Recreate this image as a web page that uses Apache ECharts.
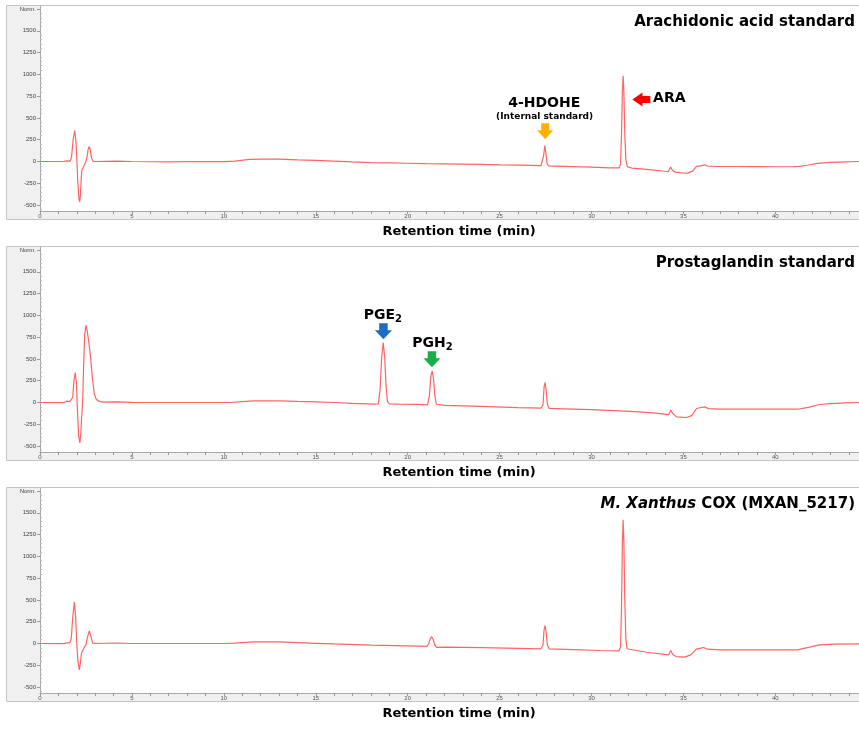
<!DOCTYPE html>
<html>
<head>
<meta charset="utf-8">
<script src="https://cdn.jsdelivr.net/npm/echarts@6/dist/echarts.min.js"></script>
<style>
html,body{margin:0;padding:0;background:#fff}
#chart{width:859px;height:729px}
</style>
</head>
<body>
<div id="chart"></div>
<script>
// tick labels
const xTicks = [0, 5, 10, 15, 20, 25, 30, 35, 40]
const yTicks = [-500, -250, 0, 250, 500, 750, 1000, 1250, 1500, 1750]

// retention time (min), signal (Norm.)
const araStd = [
  [0,0],[1.3,0],[1.45,8],[1.55,12],[1.65,5],[1.72,60],[1.8,250],[1.89,356],[1.95,250],[2.0,40],
  [2.06,-250],[2.12,-430],[2.16,-463],[2.2,-380],[2.24,-200],[2.28,-95],[2.35,-70],[2.45,-25],
  [2.55,40],[2.62,140],[2.68,172],[2.74,130],[2.8,40],[2.88,5],[3.0,0],[4.2,5],[5,0],[7,-3],
  [8.5,0],[10,-2],[10.6,5],[11.4,25],[12,28],[13,27],[14,18],[15,12],[16,5],[17,-5],[18,-12],
  [19,-15],[20,-20],[21,-25],[22,-28],[23,-30],[24,-32],[25,-38],[26,-42],[27.25,-48],[27.33,-40],
  [27.39,60],[27.46,184],[27.52,90],[27.58,-20],[27.66,-50],[28,-52],[29,-58],[30,-64],[31,-72],
  [31.5,-74],[31.58,-30],[31.63,300],[31.68,800],[31.72,984],[31.76,800],[31.81,320],[31.87,20],
  [31.95,-60],[32.2,-75],[33,-90],[34,-112],[34.18,-115],[34.3,-64],[34.4,-100],[34.55,-122],
  [34.9,-130],[35.25,-133],[35.5,-110],[35.71,-55],[35.9,-50],[36.16,-38],[36.3,-52],[37,-57],
  [38,-57],[39,-58],[40,-60],[41,-58],[41.3,-56],[41.8,-40],[42.3,-22],[42.96,-11],[43.5,-6],[44.55,0]
]
const pgStd = [
  [0,0],[1.3,-2],[1.45,15],[1.54,18],[1.62,10],[1.72,5],[1.78,60],[1.85,260],[1.92,344],[1.98,220],
  [2.04,-100],[2.1,-380],[2.17,-464],[2.22,-350],[2.28,-120],[2.32,0],[2.37,400],[2.43,780],
  [2.5,887],[2.57,820],[2.65,700],[2.75,524],[2.85,280],[2.95,103],[3.05,40],[3.17,18],[3.4,5],
  [4.2,8],[5,2],[7,0],[9,0],[10.4,0],[11,10],[11.6,18],[13,18],[14,12],[15,8],[16,0],[17,-10],
  [18.2,-18],[18.4,-15],[18.5,150],[18.58,500],[18.67,689],[18.75,520],[18.82,200],[18.9,10],
  [19,-15],[19.5,-18],[20.5,-22],[21.08,-28],[21.18,80],[21.26,300],[21.33,363],[21.4,280],
  [21.48,80],[21.56,-20],[21.65,-35],[22,-33],[24,-45],[26,-58],[27.25,-65],[27.36,-30],
  [27.42,180],[27.48,230],[27.54,120],[27.6,-20],[27.7,-68],[28.5,-72],[30,-82],[31.5,-95],
  [32.6,-107],[33.5,-122],[34.2,-138],[34.31,-88],[34.4,-120],[34.62,-165],[35.16,-172],
  [35.45,-150],[35.71,-69],[35.9,-60],[36.16,-50],[36.35,-70],[37,-77],[39,-77],[41.2,-77],
  [41.8,-55],[42.4,-23],[43,-12],[43.8,-5],[44.55,0]
]
const mxCox = [
  [0,0],[1.3,-2],[1.45,8],[1.54,10],[1.62,8],[1.7,60],[1.78,300],[1.87,475],[1.94,300],[2.0,0],
  [2.06,-200],[2.14,-302],[2.2,-220],[2.26,-110],[2.32,-92],[2.42,-40],[2.5,-15],[2.58,70],
  [2.68,146],[2.76,90],[2.86,5],[3.0,0],[4.2,6],[5,0],[7,0],[10,0],[10.6,5],[11.6,18],[13,18],
  [14,10],[15,2],[16,-5],[18,-18],[20,-28],[21.05,-32],[21.15,0],[21.22,50],[21.3,80],[21.38,50],
  [21.48,-20],[21.58,-44],[22,-42],[24,-48],[26,-56],[27.25,-61],[27.36,-20],[27.42,160],
  [27.48,207],[27.54,110],[27.6,-20],[27.7,-62],[29,-70],[30.5,-80],[31.5,-84],[31.58,-40],
  [31.63,400],[31.68,1150],[31.72,1420],[31.76,1180],[31.81,500],[31.87,50],[31.93,-60],[32,-77],
  [33,-100],[34.2,-130],[34.31,-80],[34.42,-125],[34.6,-150],[35.07,-156],[35.4,-130],[35.7,-65],
  [35.9,-55],[36.1,-46],[36.3,-65],[37,-73],[41.2,-73],[41.8,-45],[42.4,-15],[43.2,-8],[44.55,-4]
]

const FONT = '"Liberation Sans", Arial, sans-serif'
const BOLD = '"DejaVu Sans", sans-serif'
const tops = [6, 247, 488]
const plotH = 205
const arrowDown = 'path://M4,0 L12,0 L12,7 L16,7 L8,16 L0,7 L4,7 Z'
const arrowLeft = 'path://M16,4 L16,12 L9,12 L9,16 L0,8 L9,0 L9,4 Z'

const minorY = []
for (let v = -550; v <= 1750; v += 50) if (v % 250 !== 0) minorY.push(v)
const minorX = []
for (let v = 0; v <= 44; v++) minorX.push(v)

function txt(coord, text, size, rich) {
  return {
    coord, symbol: 'rect', symbolSize: 1,
    itemStyle: {color: 'rgba(0,0,0,0)'},
    label: {
      show: true, position: 'inside', formatter: text,
      fontFamily: BOLD, fontSize: size, fontWeight: 'bold', color: '#000', rich
    }
  }
}
const subRich = {
  m: {fontFamily: BOLD, fontSize: 14, fontWeight: 'bold', color: '#000'},
  s: {fontFamily: BOLD, fontSize: 10, fontWeight: 'bold', color: '#000', padding: [9, 0, 0, 0]}
}

const grids = [], xAxes = [], yAxes = [], series = []
const traces = [araStd, pgStd, mxCox]
const marks = [
  [
    {coord: [27.48, 347], symbol: arrowDown, symbolSize: [16, 16], itemStyle: {color: '#ffb000'}},
    {coord: [32.71, 712], symbol: arrowLeft, symbolSize: [18, 14], itemStyle: {color: '#ff0000'}},
    txt([27.43, 662], '4-HDOHE', 14),
    txt([27.45, 513], '(Internal standard)', 9),
    txt([34.23, 720], 'ARA', 14)
  ],
  [
    {coord: [18.68, 819], symbol: arrowDown, symbolSize: [17, 16], itemStyle: {color: '#1a6fc4'}},
    {coord: [21.32, 497], symbol: arrowDown, symbolSize: [17, 16], itemStyle: {color: '#1aae4a'}},
    txt([18.65, 1002], '{m|PGE}{s|2}', 14, subRich),
    txt([21.35, 684], '{m|PGH}{s|2}', 14, subRich)
  ],
  []
]

tops.forEach((top, i) => {
  grids.push({left: 40, right: 0, top, height: plotH, show: true, backgroundColor: '#fff', borderWidth: 0})
  xAxes.push({
    type: 'value', gridIndex: i, min: 0, max: 44.55,
    axisLine: {onZero: false, lineStyle: {color: '#a8a8a8', width: 1}},
    axisTick: {customValues: minorX, length: 3, lineStyle: {color: '#999'}},
    axisLabel: {customValues: xTicks, fontSize: 6, color: '#555', margin: 2, fontFamily: FONT},
    splitLine: {show: false}
  })
  yAxes.push({
    type: 'value', gridIndex: i, min: -568, max: 1785,
    axisLine: {show: true, onZero: false, lineStyle: {color: '#a8a8a8', width: 1}},
    axisTick: {show: true, customValues: yTicks, length: 3, lineStyle: {color: '#999'}},
    axisLabel: {
      customValues: yTicks, fontSize: 6, color: '#444', margin: 4, fontFamily: FONT,
      formatter: v => v === 1750 ? 'Norm.' : String(v)
    },
    splitLine: {show: false}
  })
  yAxes.push({
    type: 'value', gridIndex: i, min: -568, max: 1785,
    axisLine: {show: false},
    axisTick: {show: true, customValues: minorY, length: 2, lineStyle: {color: '#bbb'}},
    axisLabel: {show: false},
    splitLine: {show: false}
  })
  series.push({
    type: 'line', xAxisIndex: i, yAxisIndex: i * 2, data: traces[i],
    showSymbol: false, symbol: 'none', animation: false, silent: true,
    lineStyle: {color: '#ff6464', width: 1.2},
    markPoint: {silent: true, animation: false, data: marks[i]}
  })
})

const graphics = []
tops.forEach((top, i) => {
  graphics.push({
    type: 'rect', z: -10, silent: true,
    shape: {x: 6.5, y: top - 0.5, width: 870, height: 214},
    style: {fill: '#f0f0f0', stroke: '#c4c4c4', lineWidth: 1}
  })
  graphics.push({
    type: 'text', z: 100, x: 459, y: top + 226,
    style: {text: 'Retention time (min)', font: 'bold 13px ' + BOLD, fill: '#000',
            textAlign: 'center', textVerticalAlign: 'middle'}
  })
})
const titles = [
  {text: 'Arachidonic acid standard'},
  {text: 'Prostaglandin standard'},
  {text: '{i|M. Xanthus} {n|COX (MXAN_5217)}', rich: {
    i: {fontFamily: BOLD, fontSize: 15, fontWeight: 'bold', fontStyle: 'italic', fill: '#000'},
    n: {fontFamily: BOLD, fontSize: 15, fontWeight: 'bold', fill: '#000'}
  }}
]
titles.forEach((t, i) => {
  graphics.push({
    type: 'text', z: 100, x: 855, y: tops[i] + 16,
    style: Object.assign({font: 'bold 15px ' + BOLD, fill: '#000', textAlign: 'right', textVerticalAlign: 'middle'}, t)
  })
})

const chart = echarts.init(document.getElementById('chart'))
chart.setOption({
  animation: false,
  backgroundColor: '#fff',
  grid: grids,
  xAxis: xAxes,
  yAxis: yAxes,
  series,
  graphic: graphics
})
</script>
</body>
</html>
